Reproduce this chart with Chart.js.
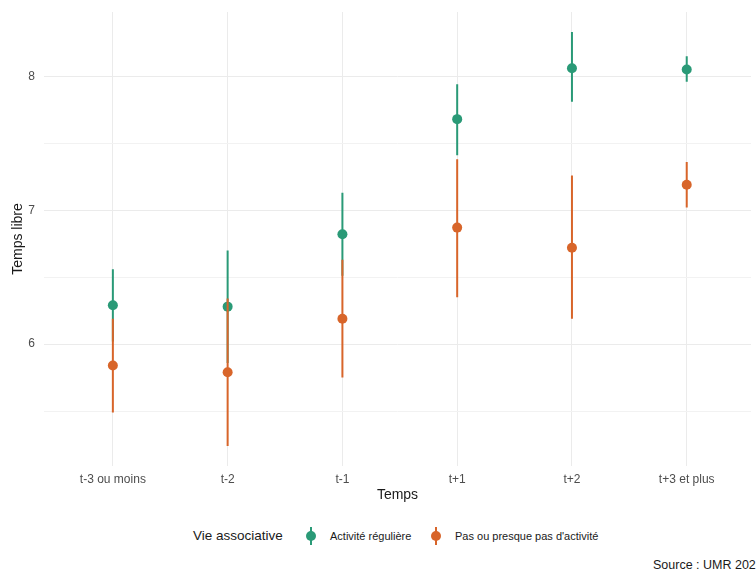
<!DOCTYPE html>
<html>
<head>
<meta charset="utf-8">
<script src="https://cdn.jsdelivr.net/npm/chart.js@4.4.1/dist/chart.umd.min.js"></script>
<style>
  html, body { margin: 0; padding: 0; background: #fff; overflow: hidden; }
  body { width: 756px; height: 573px; position: relative; font-family: "Liberation Sans", Arial, sans-serif; }
  #wrap { position: absolute; left: 0; top: 0; width: 756px; height: 505px; }
  .leg { position: absolute; top: 526px; height: 20px; line-height: 20px; white-space: nowrap; color: #1a1a1a; }
  .legtitle { font-size: 13.5px; }
  .legtxt { font-size: 11px; }
  .key { position: absolute; top: 526px; width: 10px; height: 20px; }
  .key .bar { position: absolute; left: 4px; top: 1px; width: 2px; height: 18px; }
  .key .dot { position: absolute; left: 0; top: 5px; width: 10px; height: 10px; border-radius: 50%; }
  #caption { position: absolute; left: 653px; top: 558px; font-size: 12.5px; color: #1a1a1a; white-space: nowrap; }
</style>
</head>
<body>
<div id="wrap"><canvas id="myChart" width="756" height="505"></canvas></div>

<div class="leg legtitle" style="left:193px">Vie associative</div>
<div class="key" style="left:306px"><div class="bar" style="background:#2a9a77"></div><div class="dot" style="background:#2a9a77"></div></div>
<div class="leg legtxt" style="left:330px">Activité régulière</div>
<div class="key" style="left:431px"><div class="bar" style="background:#d8652a"></div><div class="dot" style="background:#d8652a"></div></div>
<div class="leg legtxt" style="left:455px">Pas ou presque pas d'activité</div>
<div id="caption">Source : UMR 2021</div>

<script>
// categories (time relative to the event)
const periods = ['t-3 ou moins', 't-2', 't-1', 't+1', 't+2', 't+3 et plus'];

// Activité régulière : mean, low, high
const regMean = [6.29, 6.28, 6.82, 7.68, 8.06, 8.05];
const regLow  = [6.02, 5.86, 6.51, 7.41, 7.81, 7.96];
const regHigh = [6.56, 6.70, 7.13, 7.94, 8.33, 8.15];

// Pas ou presque pas d'activité : mean, low, high
const noneMean = [5.84, 5.79, 6.19, 6.87, 6.72, 7.19];
const noneLow  = [5.49, 5.24, 5.75, 6.35, 6.19, 7.02];
const noneHigh = [6.19, 6.34, 6.63, 7.38, 7.26, 7.36];

const green = '#2a9a77';
const orange = '#d8652a';

// one segment per category, broken by nulls
function ranges(low, high) {
    let out = [];
    periods.forEach((p, i) => {
        out.push({x: i, y: low[i]});
        out.push({x: i, y: high[i]});
        out.push({x: i, y: null});
    });
    return out;
}
function points(mean) {
    return mean.map((v, i) => ({x: i, y: v}));
}

let ctx = document.getElementById('myChart').getContext('2d');

let chart = new Chart(ctx, {
    type: 'scatter',
    data: {
        datasets: [
            {
                label: 'Activité régulière (intervalle)',
                data: ranges(regLow, regHigh),
                showLine: true, spanGaps: false,
                borderColor: green, borderWidth: 2,
                pointRadius: 0, order: 4
            },
            {
                label: 'Activité régulière',
                data: points(regMean),
                backgroundColor: green, borderColor: green,
                pointRadius: 5, borderWidth: 0, order: 3
            },
            {
                label: "Pas ou presque pas d'activité (intervalle)",
                data: ranges(noneLow, noneHigh),
                showLine: true, spanGaps: false,
                borderColor: orange, borderWidth: 2,
                pointRadius: 0, order: 2
            },
            {
                label: "Pas ou presque pas d'activité",
                data: points(noneMean),
                backgroundColor: orange, borderColor: orange,
                pointRadius: 5, borderWidth: 0, order: 1
            }
        ]
    },
    options: {
        responsive: false,
        animation: false,
        layout: { padding: { top: 12, left: 0, right: 0, bottom: 0 } },
        plugins: {
            legend: { display: false },
            tooltip: { enabled: false }
        },
        scales: {
            x: {
                type: 'linear',
                min: -0.6,
                max: 5.56,
                border: { display: false },
                grid: { color: '#ebebeb', lineWidth: 1, drawTicks: false },
                afterBuildTicks: (scale) => {
                    scale.ticks = periods.map((p, i) => ({value: i}));
                },
                afterFit: (scale) => {
                    scale.height = 39;
                    scale.paddingLeft = 0;
                    scale.paddingRight = 0;
                },
                ticks: {
                    padding: 6,
                    color: '#4d4d4d',
                    font: { family: 'Liberation Sans', size: 12 },
                    callback: (v) => periods[v]
                },
                title: {
                    display: true,
                    text: 'Temps',
                    color: '#1a1a1a',
                    font: { family: 'Liberation Sans', size: 14 },
                    padding: { top: 0, bottom: 1 }
                }
            },
            y: {
                min: 5.09,
                max: 8.48,
                border: { display: false },
                afterBuildTicks: (scale) => {
                    scale.ticks = [5.5, 6, 6.5, 7, 7.5, 8].map(v => ({value: v}));
                },
                afterFit: (scale) => {
                    scale.width = 44;
                    scale.paddingTop = 0;
                    scale.paddingBottom = 0;
                },
                grid: {
                    drawTicks: false,
                    color: (c) => Number.isInteger(c.tick.value) ? '#ebebeb' : '#f2f2f2',
                    lineWidth: 1
                },
                ticks: {
                    padding: 9,
                    color: '#4d4d4d',
                    font: { family: 'Liberation Sans', size: 12 },
                    callback: (v) => Number.isInteger(v) ? String(v) : ''
                },
                title: {
                    display: true,
                    text: 'Temps libre',
                    color: '#1a1a1a',
                    font: { family: 'Liberation Sans', size: 14 },
                    padding: { top: 10, bottom: 0 }
                }
            }
        }
    }
});
</script>
</body>
</html>
